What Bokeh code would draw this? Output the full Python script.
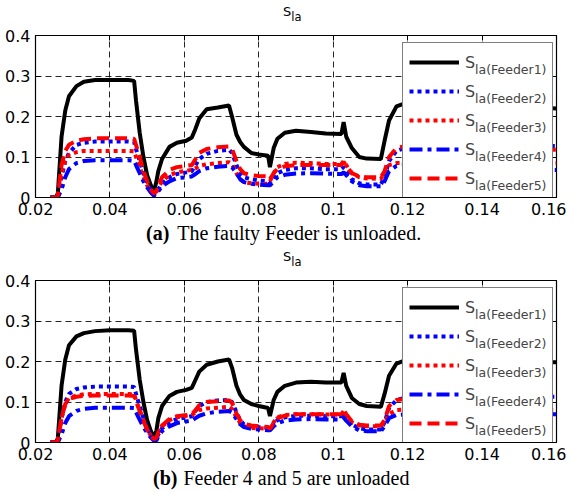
from bokeh.plotting import figure
from bokeh.models import (Range1d, FixedTicker, Legend, LegendItem,
                          LinearAxis, CustomJSTickFormatter, Div)
from bokeh.layouts import column
from bokeh.embed import file_html
from bokeh.resources import INLINE

# ---------------- data ----------------
t = [0.024, 0.0255, 0.026, 0.027, 0.028, 0.029, 0.031, 0.033, 0.036, 0.040,
     0.045, 0.0465, 0.047, 0.048, 0.049, 0.050, 0.051, 0.0518, 0.0525, 0.053,
     0.054, 0.056, 0.058, 0.0605, 0.062, 0.063, 0.064, 0.066, 0.069, 0.072,
     0.0728, 0.074, 0.075, 0.076, 0.078, 0.080, 0.0825, 0.083, 0.084, 0.085,
     0.087, 0.090, 0.094, 0.098, 0.1022, 0.1028, 0.1035, 0.105, 0.107, 0.109,
     0.1128, 0.1138, 0.115, 0.117, 0.120, 0.130, 0.145, 0.160]

# (a) The faulty Feeder is unloaded
a_feeder1 = [0, 0, 0.01, 0.15, 0.215, 0.25, 0.275, 0.286, 0.29, 0.29,
             0.29, 0.288, 0.24, 0.16, 0.10, 0.055, 0.03, 0.013, 0.04, 0.065,
             0.095, 0.125, 0.135, 0.14, 0.148, 0.17, 0.195, 0.218, 0.222, 0.227,
             0.20, 0.155, 0.137, 0.125, 0.11, 0.106, 0.103, 0.075, 0.122, 0.145,
             0.16, 0.165, 0.162, 0.158, 0.157, 0.186, 0.15, 0.122, 0.10, 0.096,
             0.095, 0.14, 0.19, 0.225, 0.235, 0.232, 0.226, 0.22]
a_feeder2 = [0, 0, 0.005, 0.05, 0.09, 0.11, 0.13, 0.135, 0.138, 0.138,
             0.138, 0.137, 0.12, 0.09, 0.06, 0.035, 0.018, 0.008, 0.01, 0.02,
             0.035, 0.05, 0.058, 0.062, 0.065, 0.08, 0.095, 0.108, 0.115, 0.118,
             0.11, 0.08, 0.06, 0.05, 0.045, 0.042, 0.04, 0.035, 0.05, 0.06,
             0.068, 0.072, 0.072, 0.07, 0.07, 0.075, 0.065, 0.045, 0.035, 0.032,
             0.032, 0.05, 0.09, 0.115, 0.125, 0.127, 0.127, 0.127]
a_feeder3 = [0, 0, 0.005, 0.06, 0.09, 0.105, 0.112, 0.115, 0.115, 0.115,
             0.115, 0.114, 0.10, 0.075, 0.05, 0.03, 0.015, 0.008, 0.012, 0.025,
             0.04, 0.055, 0.062, 0.066, 0.068, 0.072, 0.078, 0.082, 0.085, 0.087,
             0.082, 0.06, 0.045, 0.038, 0.035, 0.034, 0.034, 0.04, 0.06, 0.075,
             0.083, 0.086, 0.085, 0.083, 0.083, 0.09, 0.08, 0.06, 0.05, 0.047,
             0.046, 0.06, 0.08, 0.085, 0.085, 0.085, 0.085, 0.085]
a_feeder4 = [0, 0, 0, 0.02, 0.05, 0.07, 0.085, 0.09, 0.092, 0.092,
             0.092, 0.091, 0.08, 0.06, 0.04, 0.025, 0.012, 0.005, 0.005, 0.015,
             0.028, 0.04, 0.048, 0.05, 0.052, 0.058, 0.065, 0.072, 0.076, 0.078,
             0.075, 0.06, 0.045, 0.038, 0.034, 0.032, 0.03, 0.03, 0.04, 0.05,
             0.056, 0.059, 0.06, 0.059, 0.058, 0.062, 0.055, 0.04, 0.03, 0.028,
             0.028, 0.04, 0.065, 0.078, 0.08, 0.075, 0.07, 0.068]
a_feeder5 = [0, 0, 0.005, 0.08, 0.115, 0.13, 0.14, 0.144, 0.146, 0.146,
             0.146, 0.145, 0.13, 0.10, 0.065, 0.04, 0.02, 0.01, 0.015, 0.03,
             0.05, 0.068, 0.075, 0.078, 0.08, 0.095, 0.11, 0.12, 0.124, 0.126,
             0.12, 0.09, 0.07, 0.06, 0.055, 0.053, 0.052, 0.045, 0.06, 0.07,
             0.077, 0.08, 0.08, 0.08, 0.08, 0.088, 0.078, 0.06, 0.052, 0.05,
             0.05, 0.065, 0.10, 0.122, 0.128, 0.125, 0.12, 0.118]

# (b) Feeder 4 and 5 are unloaded
b_feeder1 = [0, 0, 0.01, 0.14, 0.205, 0.24, 0.262, 0.27, 0.275, 0.277,
             0.277, 0.276, 0.23, 0.155, 0.10, 0.055, 0.028, 0.012, 0.03, 0.06,
             0.09, 0.115, 0.125, 0.13, 0.135, 0.155, 0.175, 0.192, 0.2, 0.205,
             0.185, 0.14, 0.118, 0.105, 0.095, 0.09, 0.085, 0.065, 0.105, 0.125,
             0.14, 0.148, 0.15, 0.148, 0.148, 0.172, 0.14, 0.11, 0.095, 0.09,
             0.088, 0.12, 0.165, 0.195, 0.205, 0.205, 0.2, 0.198]
b_feeder2 = [0, 0, 0.005, 0.06, 0.10, 0.12, 0.132, 0.136, 0.138, 0.138,
             0.138, 0.137, 0.12, 0.09, 0.06, 0.035, 0.018, 0.008, 0.01, 0.02,
             0.035, 0.05, 0.058, 0.062, 0.065, 0.078, 0.09, 0.10, 0.104, 0.105,
             0.10, 0.075, 0.055, 0.045, 0.04, 0.038, 0.036, 0.033, 0.045, 0.055,
             0.062, 0.066, 0.066, 0.065, 0.065, 0.075, 0.062, 0.045, 0.035, 0.032,
             0.032, 0.05, 0.085, 0.105, 0.112, 0.113, 0.113, 0.113]
b_feeder3 = [0, 0, 0.005, 0.06, 0.095, 0.11, 0.116, 0.119, 0.12, 0.12,
             0.12, 0.119, 0.105, 0.08, 0.055, 0.033, 0.016, 0.008, 0.012, 0.025,
             0.04, 0.055, 0.062, 0.066, 0.068, 0.074, 0.08, 0.084, 0.086, 0.088,
             0.083, 0.062, 0.048, 0.04, 0.036, 0.035, 0.034, 0.035, 0.05, 0.062,
             0.068, 0.07, 0.07, 0.069, 0.069, 0.078, 0.068, 0.05, 0.042, 0.04,
             0.04, 0.05, 0.07, 0.08, 0.082, 0.082, 0.081, 0.08]
b_feeder4 = [0, 0, 0, 0.02, 0.048, 0.065, 0.078, 0.083, 0.086, 0.086,
             0.086, 0.085, 0.075, 0.056, 0.038, 0.024, 0.012, 0.005, 0.005, 0.015,
             0.028, 0.04, 0.048, 0.052, 0.054, 0.06, 0.066, 0.072, 0.076, 0.078,
             0.074, 0.058, 0.045, 0.038, 0.034, 0.032, 0.03, 0.03, 0.04, 0.048,
             0.054, 0.057, 0.058, 0.057, 0.057, 0.062, 0.054, 0.04, 0.03, 0.028,
             0.028, 0.04, 0.06, 0.068, 0.07, 0.07, 0.07, 0.07]
b_feeder5 = [0, 0, 0.005, 0.06, 0.095, 0.108, 0.113, 0.115, 0.116, 0.116,
             0.116, 0.115, 0.102, 0.078, 0.052, 0.032, 0.016, 0.008, 0.012, 0.025,
             0.042, 0.058, 0.065, 0.068, 0.07, 0.08, 0.092, 0.10, 0.102, 0.104,
             0.098, 0.072, 0.055, 0.046, 0.042, 0.04, 0.038, 0.034, 0.048, 0.06,
             0.066, 0.07, 0.07, 0.07, 0.07, 0.08, 0.07, 0.052, 0.044, 0.042,
             0.042, 0.055, 0.09, 0.105, 0.108, 0.10, 0.09, 0.085]

series_names = ["la(Feeder1)", "la(Feeder2)", "la(Feeder3)", "la(Feeder4)", "la(Feeder5)"]
x_ticks = [0.02, 0.04, 0.06, 0.08, 0.1, 0.12, 0.14, 0.16]
x_tick_labels = ["0.02", "0.04", "0.06", "0.08", "0.1", "0.12", "0.14", "0.16"]
y_ticks = [0, 0.1, 0.2, 0.3, 0.4]
y_tick_labels = ["0", "0.1", "0.2", "0.3", "0.4"]
title_main, title_sub = "S", "la"
captions = [("(a)", "The faulty Feeder is unloaded."),
            ("(b)", "Feeder 4 and 5 are unloaded")]

# ---------------- styling ----------------
colors = ["black", "#0000ff", "#ff0000", "#0000ff", "#ff0000"]
dashes = ["solid", "4 4", "4 4", "13 5 4 5", "12 6"]
widths = [4, 4, 4, 4, 4]

X0, X1, Y0, Y1 = 0.02, 0.16, 0.0, 0.4
FW, FH = 521, 162
SANS = "DejaVu Sans"
TOTAL_W = 566


def title_div():
    html = ("<div style=\"font-family:'DejaVu Sans'; color:black; "
            "padding-left:283px; padding-top:5px; line-height:14px; "
            "font-size:13px; white-space:nowrap;\">"
            + title_main +
            "<span style=\"font-size:11.5px; position:relative; top:5px;\">"
            + title_sub + "</span></div>")
    return Div(text=html, width=TOTAL_W, height=26, margin=0)


def caption_div(caption, left, gap):
    lead, rest = caption
    html = ("<div style=\"font-family:'Liberation Serif'; color:black; "
            "font-size:20px; line-height:24px; white-space:nowrap; "
            "padding-left:%dpx;\"><b>%s</b><span style=\"margin-left:%dpx;\">%s</span></div>"
            % (left, lead, gap, rest))
    return Div(text=html, width=TOTAL_W, height=24, margin=0)


def panel(series):
    p = figure(frame_width=FW, frame_height=FH,
               min_border_left=35, min_border_right=10,
               min_border_top=9, min_border_bottom=24,
               x_range=Range1d(X0, X1), y_range=Range1d(Y0, Y1),
               output_backend="svg", toolbar_location=None, tools="")
    p.background_fill_color = "white"
    p.border_fill_color = "white"
    p.outline_line_color = "black"
    p.outline_line_width = 1.2

    for ax, ticks, labels in ((p.xaxis[0], x_ticks, x_tick_labels),
                              (p.yaxis[0], y_ticks, y_tick_labels)):
        ax.ticker = FixedTicker(ticks=ticks)
        ax.major_label_overrides = dict(zip(ticks, labels))
        ax.major_label_text_font = SANS
        ax.major_label_text_font_size = "16px"
        ax.major_label_text_color = "black"
        ax.major_tick_in = 5
        ax.major_tick_out = 0
        ax.minor_tick_line_color = None
        ax.axis_line_color = "black"
        ax.major_tick_line_color = "black"
        ax.major_label_standoff = 5

    blank = CustomJSTickFormatter(code="return ''")
    top = LinearAxis(ticker=FixedTicker(ticks=x_ticks), formatter=blank,
                     major_tick_in=5, major_tick_out=0, axis_line_color=None,
                     minor_tick_line_color=None, major_label_standoff=0,
                     major_label_text_font_size="0px")
    right = LinearAxis(ticker=FixedTicker(ticks=y_ticks), formatter=blank,
                       major_tick_in=5, major_tick_out=0, axis_line_color=None,
                       minor_tick_line_color=None, major_label_standoff=0,
                       major_label_text_font_size="0px")
    p.add_layout(top, "above")
    p.add_layout(right, "right")

    p.xgrid.ticker = FixedTicker(ticks=x_ticks)
    p.ygrid.ticker = FixedTicker(ticks=y_ticks)
    for g in (p.xgrid[0], p.ygrid[0]):
        g.grid_line_color = "black"
        g.grid_line_alpha = 0.85
        g.grid_line_dash = "6 4"
        g.grid_line_width = 1

    items = []
    for vals, c, d, w in zip(series, colors, dashes, widths):
        r = p.line(t, vals, line_color=c, line_dash=d, line_width=w)
        items.append(LegendItem(label=title_main, renderers=[r]))

    leg = Legend(items=items, location=(367, -1), margin=0, padding=6,
                 spacing=3, glyph_height=26, label_height=26, glyph_width=50,
                 label_width=81, label_standoff=6,
                 label_text_font=SANS, label_text_font_size="16px",
                 border_line_color="black", border_line_width=1,
                 background_fill_color="white", background_fill_alpha=1.0)
    p.add_layout(leg, "center")

    # second, transparent legend carrying the subscripts
    dummy = p.line([], [], line_alpha=0)
    sub_items = [LegendItem(label=name, renderers=[dummy]) for name in series_names]
    sub = Legend(items=sub_items, location=(440, -1), margin=0, padding=0,
                 spacing=3, glyph_height=26, label_height=26, glyph_width=0,
                 label_width=20, label_standoff=0,
                 label_text_font=SANS, label_text_font_size="12.5px",
                 border_line_color=None, background_fill_alpha=0.0)
    p.add_layout(sub, "center")
    return p


p1 = panel([a_feeder1, a_feeder2, a_feeder3, a_feeder4, a_feeder5])
p2 = panel([b_feeder1, b_feeder2, b_feeder3, b_feeder4, b_feeder5])

layout = column(title_div(), p1, caption_div(captions[0], 146, 8),
                title_div(), p2, caption_div(captions[1], 153, 6),
                spacing=0)
open("out.html", "w").write(file_html(layout, INLINE))
